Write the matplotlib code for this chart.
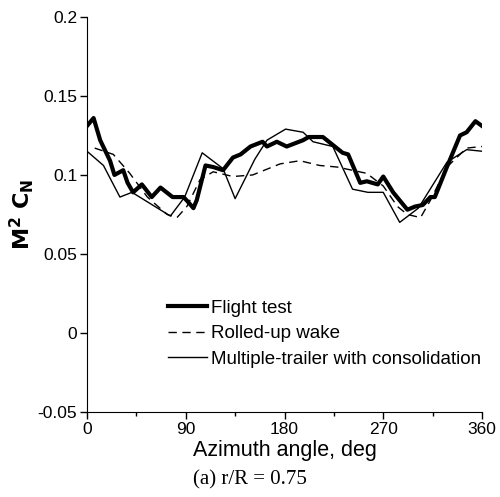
import numpy as np
import matplotlib
matplotlib.use("Agg")
import matplotlib.pyplot as plt
from matplotlib.ticker import MultipleLocator

plt.rcParams['font.family'] = ['Liberation Sans', 'DejaVu Sans']

# flight test (thick line)
psi_flight = [0, 6, 12, 21, 25, 33, 37, 42, 50, 59, 67, 78, 88, 92, 97, 100,
              108, 115, 124, 133, 140, 149, 160, 164, 173, 182, 197, 202, 215,
              224, 233, 238, 249, 255, 265, 270, 279, 292, 299, 306, 313, 317,
              328, 340, 346, 354, 358, 360]
cn_flight = [0.131, 0.136, 0.122, 0.109, 0.100, 0.103, 0.095, 0.089, 0.094,
             0.086, 0.092, 0.086, 0.086, 0.083, 0.079, 0.084, 0.106, 0.105,
             0.103, 0.111, 0.113, 0.118, 0.121, 0.118, 0.121, 0.118, 0.122,
             0.124, 0.124, 0.119, 0.114, 0.113, 0.095, 0.096, 0.094, 0.099,
             0.089, 0.078, 0.080, 0.081, 0.086, 0.086, 0.105, 0.125, 0.127,
             0.134, 0.132, 0.131]

# rolled-up wake (dashed)
psi_rolled = [7, 24, 39, 55, 73, 82, 91, 103, 115, 133, 151, 176, 194, 212,
              228, 255, 270, 283, 292, 304, 313, 328, 346, 360]
cn_rolled = [0.117, 0.113, 0.101, 0.086, 0.075, 0.073, 0.080, 0.097, 0.102,
             0.099, 0.100, 0.107, 0.109, 0.106, 0.105, 0.101, 0.093, 0.080,
             0.075, 0.073, 0.084, 0.105, 0.117, 0.118]

# multiple-trailer with consolidation (thin solid)
psi_multi = [0, 15, 30, 41, 76, 89, 105, 124, 135, 153, 164, 181, 197, 206,
             224, 242, 256, 270, 285, 302, 328, 346, 360]
cn_multi = [0.115, 0.106, 0.086, 0.089, 0.074, 0.086, 0.114, 0.104, 0.085,
            0.110, 0.122, 0.129, 0.127, 0.121, 0.118, 0.091, 0.089, 0.089,
            0.070, 0.079, 0.108, 0.116, 0.115]

labels = ["Flight test", "Rolled-up wake", "Multiple-trailer with consolidation"]

fig = plt.figure(figsize=(5.0, 4.97), dpi=100)
ax = fig.add_axes([0.174, 0.171, 0.79, 0.795])

ax.plot(psi_flight, cn_flight, color='black', lw=3.0, label=labels[0])
ax.plot(psi_rolled, cn_rolled, color='black', lw=1.0, dashes=(6, 4), label=labels[1])
ax.plot(psi_multi, cn_multi, color='black', lw=1.0, label=labels[2])

ax.set_xlim(0, 360)
ax.set_ylim(-0.05, 0.2)
ax.xaxis.set_major_locator(MultipleLocator(90))
ax.xaxis.set_minor_locator(MultipleLocator(45))
ax.set_yticks([-0.05, 0, 0.05, 0.1, 0.15, 0.2])
ax.set_yticklabels(["-0.05", "0", "0.05", "0.1", "0.15", "0.2"])
ax.tick_params(which='major', direction='out', length=5, width=1, labelsize=12.5, pad=2)
ax.tick_params(which='minor', direction='out', length=3, width=1)
for s in ['top', 'right']:
    ax.spines[s].set_visible(False)

ax.set_xlabel("Azimuth angle, deg", fontsize=15.5, labelpad=2)
ax.set_ylabel(r"$\mathbf{M^2\ C_N}$", fontsize=16, labelpad=1)

leg = ax.legend(loc='upper left', bbox_to_anchor=(0.205, 0.285), frameon=False,
                fontsize=13.5, handlelength=2.1, handletextpad=0.2, labelspacing=0.45,
                borderaxespad=0, borderpad=0)

fig.text(0.5, 0.034, "(a) r/R = 0.75", ha='center', va='center',
         fontsize=15, family='Liberation Serif')

fig.savefig("out.png", dpi=100)
